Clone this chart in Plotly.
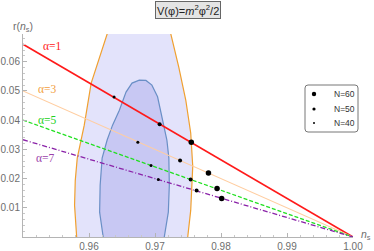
import plotly.graph_objects as go

# ---------------- data ----------------
alphas = ["α=1", "α=3", "α=5", "α=7"]
line_ns = [0.95, 1.0]
line_r_alpha1 = [0.0660, 0.0]
line_r_alpha3 = [0.0500, 0.0]
line_r_alpha5 = [0.0400, 0.0]
line_r_alpha7 = [0.0333, 0.0]

N_labels = ["N=60", "N=50", "N=40"]
pts_ns_N60 = [0.9755, 0.9781, 0.9794, 0.9801]
pts_r_N60 = [0.0324, 0.0219, 0.0166, 0.0132]
pts_ns_N50 = [0.9707, 0.9738, 0.9754, 0.9763]
pts_r_N50 = [0.0386, 0.0262, 0.0197, 0.0159]
pts_ns_N40 = [0.9638, 0.9674, 0.9694, 0.9705]
pts_r_N40 = [0.0479, 0.0324, 0.0245, 0.0197]

# Planck 2-sigma (outer) and 1-sigma (inner) regions
outer_ns = [0.95822, 0.95781, 0.95792, 0.95822, 0.95928, 0.96033, 0.96275, 0.96311,
            0.97213, 0.9724, 0.9736, 0.97466, 0.97541, 0.97572, 0.97541, 0.97481]
outer_r = [-0.003, 0.0109, 0.0194, 0.0270, 0.0383, 0.0527, 0.0695, 0.072,
           0.072, 0.0695, 0.0582, 0.0469, 0.0356, 0.0242, 0.0091, -0.003]
inner_ns = [0.96234, 0.96161, 0.96169, 0.96199, 0.96275, 0.96357, 0.9646, 0.96561, 0.96652,
            0.96762, 0.96863, 0.96953, 0.97039, 0.9713, 0.9718, 0.9721, 0.97217, 0.97202, 0.97119]
inner_r = [-0.003, 0.0085, 0.0177, 0.0270, 0.0332, 0.0383, 0.0434, 0.0496, 0.0527,
           0.0537, 0.0536, 0.0520, 0.0480, 0.0383, 0.0332, 0.0270, 0.0177, 0.0085, -0.003]

x_ticks = [0.96, 0.97, 0.98, 0.99, 1.00]
x_ticktext = ["0.96", "0.97", "0.98", "0.99", "1.00"]
y_ticks = [0.01, 0.02, 0.03, 0.04, 0.05, 0.06]
y_ticktext = ["0.01", "0.02", "0.03", "0.04", "0.05", "0.06"]

# ---------------- figure ----------------
W, H = 374, 251
L, R, T, B = 23, 21, 34, 14
pw, ph = W - L - R, H - T - B


def px(x):
    return (x - L) / pw


def py(y):
    return (H - B - y) / ph


fig = go.Figure()

fig.add_trace(go.Scatter(x=outer_ns, y=outer_r, mode="lines", fill="toself",
                         fillcolor="#e3e3fb", line=dict(color="#f0a030", width=1.2),
                         showlegend=False, hoverinfo="skip"))
fig.add_trace(go.Scatter(x=inner_ns, y=inner_r, mode="lines", fill="toself",
                         fillcolor="#c8c8f3", line=dict(color="#6a8fc6", width=1.2),
                         showlegend=False, hoverinfo="skip"))

line_styles = [
    (line_r_alpha1, "#ff1a1a", 1.6, "solid"),
    (line_r_alpha3, "#ffcda0", 1.1, "solid"),
    (line_r_alpha5, "#22e022", 1.3, "4px,2px"),
    (line_r_alpha7, "#8a22a8", 1.3, "5px,2px,1px,2px"),
]
for name, (r, c, w, d) in zip(alphas, line_styles):
    fig.add_trace(go.Scatter(x=line_ns, y=r, mode="lines", name=name,
                             line=dict(color=c, width=w, dash=d), showlegend=False))

for name, xs, ys, s in [(N_labels[0], pts_ns_N60, pts_r_N60, 5.5),
                        (N_labels[1], pts_ns_N50, pts_r_N50, 4),
                        (N_labels[2], pts_ns_N40, pts_r_N40, 3)]:
    fig.add_trace(go.Scatter(x=xs, y=ys, mode="markers", name=name,
                             marker=dict(color="black", size=s), showlegend=False))

axis_common = dict(showline=True, linecolor="#b4b4b4", linewidth=1, ticks="inside",
                   tickcolor="#b4b4b4", ticklen=4, showgrid=False, zeroline=False,
                   automargin=False,
                   tickfont=dict(family="Liberation Sans", size=10, color="#6e6e6e"))
fig.update_xaxes(range=[0.95, 1.0], tickvals=x_ticks, ticktext=x_ticktext,
                 minor=dict(dtick=0.002, ticklen=2, tickcolor="#c8c8c8", ticks="inside"),
                 **axis_common)
fig.update_yaxes(range=[0, 0.0695], tickvals=y_ticks, ticktext=y_ticktext,
                 minor=dict(dtick=0.002, ticklen=2, tickcolor="#c8c8c8", ticks="inside"),
                 **axis_common)


def note(text, xx, yy, size, color, family="Liberation Sans", xanchor="center", **kw):
    return dict(x=px(xx), y=py(yy), xref="paper", yref="paper", text=text,
                showarrow=False, xanchor=xanchor, yanchor="middle",
                font=dict(family=family, size=size, color=color), **kw)


ann = [
    note("V(φ)=<i>m</i><sup>2</sup>φ<sup>2</sup>/2", 187.5, 10, 11, "#222",
         bgcolor="#e4e4e4", bordercolor="#666", borderwidth=1, borderpad=1),
    note("r(<i>n</i><sub>s</sub>)", 22.5, 27, 10.5, "#6e6e6e"),
    note("<i>n</i><sub>s</sub>", 366, 235, 10.5, "#6e6e6e"),
]
for name, (xx, yy), col in zip(alphas, [(52, 46), (47.5, 89), (47, 120), (45, 157.7)],
                               ["#ff2020", "#f2a040", "#22d022", "#9a40aa"]):
    ann.append(note(name, xx, yy, 11.5, col, family="Liberation Serif"))

# legend box
x0, x1, y0, y1 = px(305), px(358), py(132), py(85)
rx, ry = 3 / pw, 3 / ph
path = (f"M {x0+rx},{y0} L {x1-rx},{y0} Q {x1},{y0} {x1},{y0+ry} L {x1},{y1-ry} "
        f"Q {x1},{y1} {x1-rx},{y1} L {x0+rx},{y1} Q {x0},{y1} {x0},{y1-ry} "
        f"L {x0},{y0+ry} Q {x0},{y0} {x0+rx},{y0} Z")
shapes = [dict(type="path", path=path, xref="paper", yref="paper",
               line=dict(color="#777", width=1), fillcolor="white", layer="above")]
for name, yy, rad in zip(N_labels, [94, 109, 123], [2.2, 1.6, 1.0]):
    shapes.append(dict(type="circle", xref="paper", yref="paper", xsizemode="pixel",
                       ysizemode="pixel", xanchor=px(314), yanchor=py(yy),
                       x0=-rad, x1=rad, y0=-rad, y1=rad, fillcolor="black",
                       line=dict(width=0), layer="above"))
    ann.append(note(name, 332, yy, 8.5, "#333", xanchor="left"))

fig.update_layout(width=W, height=H, margin=dict(l=L, r=R, t=T, b=B, autoexpand=False),
                  paper_bgcolor="white", plot_bgcolor="white",
                  annotations=ann, shapes=shapes, showlegend=False)

fig.write_html("out.html", config={"displayModeBar": False},
               post_script="document.body.style.margin='0';document.body.style.overflow='hidden';")
